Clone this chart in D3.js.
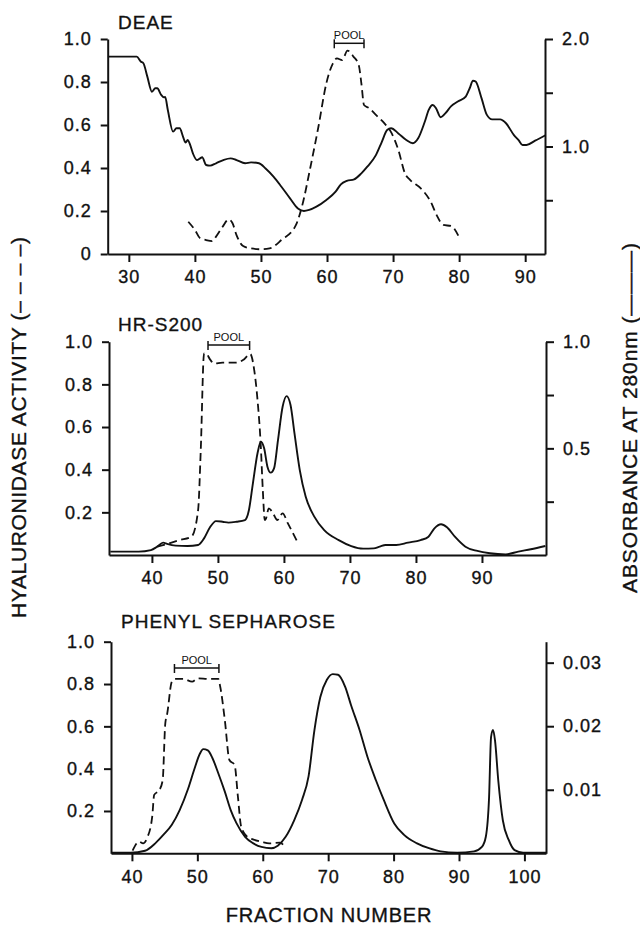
<!DOCTYPE html>
<html>
<head>
<meta charset="utf-8">
<script src="https://cdn.jsdelivr.net/npm/d3@7"></script>
<style>
  html, body { margin: 0; padding: 0; background: #fff; }
  svg text { font-family: "Liberation Sans", Arial, Helvetica, sans-serif; fill: #111; }
</style>
</head>
<body>
<svg id="chart" width="640" height="926"></svg>
<script>
// ---------------- DATA ----------------
// [fraction, value]; activity on left axis (0-1), absorbance on right axis
const deaeAbsorbance = [
 [26.8,1.836],[31.2,1.836],[31.8,1.79],[32.2,1.774],[32.8,1.65],[33.5,1.51],[34.0,1.542],[34.3,1.542],
 [34.9,1.48],[35.3,1.458],[35.5,1.46],[35.9,1.34],[36.7,1.138],[37.2,1.17],[37.7,1.17],[38.2,1.092],
 [38.6,1.036],[38.9,1.06],[39.2,1.03],[39.7,0.936],[40.3,0.874],[40.8,0.89],[41.1,0.90],[41.7,0.828],
 [42.3,0.822],[43.2,0.844],[44.3,0.874],[45.4,0.89],[46.3,0.874],[47.6,0.844],[48.5,0.852],[49.7,0.844],
 [50.7,0.796],[51.9,0.72],[53.1,0.626],[54.4,0.518],[55.6,0.424],[56.5,0.40],[57.3,0.41],[58.4,0.44],
 [59.9,0.502],[61.3,0.58],[62.1,0.648],[63.0,0.68],[64.1,0.694],[65.2,0.75],[66.1,0.812],[67.4,0.92],
 [68.3,1.044],[69.1,1.154],[69.7,1.17],[70.8,1.122],[72.0,1.06],[73.0,1.03],[73.8,1.076],[74.8,1.23],
 [75.4,1.34],[76.0,1.386],[76.5,1.356],[77.2,1.272],[77.9,1.308],[78.8,1.376],[79.8,1.418],[81.0,1.464],
 [81.6,1.542],[82.1,1.612],[82.5,1.604],[83.4,1.448],[84.2,1.294],[85.0,1.252],[86.2,1.252],[87.1,1.216],
 [88.3,1.106],[89.0,1.06],[89.6,1.014],[90.2,1.014],[91.5,1.054],[93.1,1.106]
];
const deaeActivity = [
 [39.0,0.150],[40.0,0.112],[40.8,0.073],[41.7,0.065],[42.6,0.06],[43.2,0.081],[44.2,0.127],[45.1,0.161],
 [45.7,0.143],[46.3,0.088],[47.3,0.037],[48.5,0.026],[50.0,0.022],[51.3,0.026],[53.1,0.065],[55.3,0.135],
 [56.2,0.22],[57.5,0.406],[58.7,0.592],[59.9,0.794],[60.9,0.887],[61.5,0.91],[62.3,0.902],[63.1,0.946],
 [64.0,0.918],[64.8,0.879],[65.2,0.794],[65.6,0.693],[66.4,0.678],[67.4,0.647],[68.6,0.611],[69.8,0.561],
 [70.8,0.484],[71.8,0.375],[72.6,0.344],[74.2,0.305],[75.7,0.243],[76.6,0.181],[77.6,0.135],[78.8,0.13],
 [80.0,0.078]
];
const hrAbsorbance = [
 [33.7,0.016],[35.5,0.016],[38.0,0.016],[39.85,0.023],[40.8,0.039],[41.7,0.058],[42.3,0.052],[43.6,0.044],
 [45.4,0.042],[47.0,0.047],[47.9,0.078],[48.8,0.13],[49.7,0.159],[50.7,0.156],[51.6,0.152],[52.8,0.156],
 [54.1,0.164],[54.7,0.211],[55.3,0.336],[56.0,0.477],[56.5,0.531],[57.0,0.5],[57.5,0.414],[58.0,0.386],
 [58.5,0.406],[59.1,0.539],[59.8,0.695],[60.4,0.745],[61.0,0.703],[61.6,0.57],[62.4,0.398],[63.3,0.273],
 [64.6,0.18],[66.1,0.117],[68.3,0.07],[70.2,0.042],[72.0,0.03],[73.6,0.031],[74.5,0.039],[75.4,0.047],
 [77.0,0.047],[78.8,0.058],[80.7,0.07],[81.9,0.086],[82.8,0.125],[83.8,0.144],[84.7,0.13],[85.9,0.086],
 [87.5,0.039],[89.3,0.019],[91.2,0.008],[93.6,0.003],[95.5,0.016],[97.4,0.027],[99.6,0.042]
];
const hrActivity = [
 [40.8,0.039],[42.3,0.052],[44.2,0.07],[46.0,0.086],[47.0,0.211],[47.4,0.492],[47.9,0.945],[48.2,0.945],
 [48.8,0.917],[49.4,0.898],[50.7,0.902],[52.8,0.902],[53.8,0.914],[54.9,0.942],[55.5,0.867],[56.0,0.727],
 [56.5,0.508],[56.8,0.305],[57.1,0.164],[57.3,0.172],[57.7,0.219],[58.4,0.192],[59.0,0.164],[59.8,0.195],
 [60.6,0.148],[62.1,0.058]
];
const phenylAbsorbance = [
 [36.8,0.0001],[39.8,0.0001],[42.0,0.0004],[43.6,0.0016],[44.8,0.0029],[46.1,0.0045],[47.3,0.0068],
 [48.6,0.0102],[49.5,0.0131],[50.4,0.0157],[50.9,0.0164],[51.6,0.0162],[52.3,0.0150],[53.2,0.0126],
 [54.2,0.0097],[55.1,0.0068],[56.0,0.0047],[57.3,0.0026],[58.5,0.0016],[59.8,0.0010],[61.3,0.0008],
 [62.3,0.0012],[63.5,0.0026],[64.8,0.0052],[66.0,0.0084],[67.0,0.0121],[67.9,0.0194],[68.8,0.0246],
 [69.8,0.0273],[70.7,0.0282],[71.5,0.0281],[72.6,0.0262],[73.5,0.0233],[74.8,0.0194],[76.0,0.0152],
 [77.3,0.0115],[78.5,0.0084],[80.1,0.0047],[81.6,0.0029],[83.5,0.0016],[85.4,0.0008],[87.2,0.0003],
 [89.7,0.0001],[92.3,0.0003],[93.5,0.0010],[94.1,0.0026],[94.6,0.0089],[94.9,0.0183],[95.2,0.0194],
 [95.5,0.0178],[96.0,0.0115],[96.7,0.0052],[97.6,0.0021],[98.5,0.0005],[99.8,0.0001],[103.3,0.0001]
];
const phenylActivity = [
 [40.1,0.013],[41.1,0.055],[41.7,0.047],[42.3,0.071],[43.1,0.173],[43.4,0.276],[44.2,0.299],[44.7,0.346],
 [45.1,0.614],[45.4,0.661],[46.1,0.811],[46.7,0.824],[47.9,0.824],[49.2,0.811],[50.1,0.827],[51.7,0.824],
 [53.2,0.824],[53.5,0.787],[54.2,0.630],[54.9,0.441],[55.7,0.417],[56.2,0.268],[56.7,0.126],[57.6,0.079],
 [58.5,0.066],[59.8,0.055],[61.0,0.047],[62.6,0.050],[63.5,0.027]
];

// tick values / labels
const deaeXTicks = [30,40,50,60,70,80,90];
const hrXTicks = [40,50,60,70,80,90];
const phenylXTicks = [40,50,60,70,80,90,100];
const deaeLeftTicks = [0,0.2,0.4,0.6,0.8,1.0];
const otherLeftTicks = [0.2,0.4,0.6,0.8,1.0];
const deaeRightTicks = [0.5,1.0,1.5,2.0];
const deaeRightLabels = [1.0,2.0];
const hrRightTicks = [0.25,0.5,0.75,1.0];
const hrRightLabels = [0.5,1.0];
const phenylRightTicks = [0.01,0.02,0.03];
const phenylRightLabels = [0.01,0.02,0.03];

const titles = ["DEAE","HR-S200","PHENYL SEPHAROSE"];
const pools = [[61.1,65.6],[48.5,54.8],[46.5,53.3]];

// ---------------- LAYOUT ----------------
const panels = [
  {x0:107.7,x1:545,yb:254,yt:39,xd:[26.8,93],rmax:2.0,abs:deaeAbsorbance,act:deaeActivity,
   xt:deaeXTicks,lt:deaeLeftTicks,rt:deaeRightTicks,rl:deaeRightLabels,rf:d3.format(".1f"),
   tx:118,ty:29,poolY:43.3},
  {x0:109,x1:546,yb:555,yt:341.7,xd:[33.5,99.7],rmax:1.0,abs:hrAbsorbance,act:hrActivity,
   xt:hrXTicks,lt:otherLeftTicks,rt:hrRightTicks,rl:hrRightLabels,rf:d3.format(".1f"),
   tx:118,ty:331,poolY:345},
  {x0:111,x1:546,yb:853.3,yt:641.7,xd:[36.8,103.3],rmax:0.0333,abs:phenylAbsorbance,act:phenylActivity,
   xt:phenylXTicks,lt:otherLeftTicks,rt:phenylRightTicks,rl:phenylRightLabels,rf:d3.format(".2f"),
   tx:121,ty:628,poolY:668}
];

const svg = d3.select("#chart");
const leftFmt = d => d === 0 ? "0" : d3.format(".1f")(d);
const ink = sel => sel.attr("stroke","#111").attr("stroke-width",0.35).attr("paint-order","stroke");

panels.forEach((p, i) => {
  const x = d3.scaleLinear().domain(p.xd).range([p.x0, p.x1]);
  const yL = d3.scaleLinear().domain([0,1]).range([p.yb, p.yt]);
  const yR = d3.scaleLinear().domain([0,p.rmax]).range([p.yb, p.yt]);
  const g = svg.append("g");

  const clipId = "clip" + i;
  svg.append("clipPath").attr("id", clipId).append("rect")
    .attr("x", p.x0).attr("y", p.yt - 20).attr("width", p.x1 - p.x0).attr("height", p.yb - p.yt + 20);

  // curves
  const lineA = d3.line().x(d => x(d[0])).y(d => yR(d[1])).curve(d3.curveMonotoneX);
  const lineB = d3.line().x(d => x(d[0])).y(d => yL(d[1])).curve(d3.curveMonotoneX);
  g.append("path").datum(p.abs).attr("d", lineA).attr("clip-path", `url(#${clipId})`)
    .attr("fill","none").attr("stroke","#111").attr("stroke-width",1.9).attr("stroke-linejoin","round");
  g.append("path").datum(p.act).attr("d", lineB).attr("clip-path", `url(#${clipId})`)
    .attr("fill","none").attr("stroke","#111").attr("stroke-width",1.8).attr("stroke-dasharray","8,4.5");

  // axes
  const styleAxis = sel => {
    sel.selectAll("path.domain").attr("stroke","#111").attr("stroke-width",2);
    sel.selectAll(".tick line").attr("stroke","#111").attr("stroke-width",2);
    sel.selectAll(".tick text").attr("font-size",18).attr("letter-spacing",1)
      .attr("font-family","'Liberation Sans', Arial, Helvetica, sans-serif").attr("fill","#111")
      .call(ink);
  };
  const gx = g.append("g").attr("transform",`translate(0,${p.yb})`)
    .call(d3.axisBottom(x).tickValues(p.xt).tickSize(8).tickSizeOuter(0).tickPadding(6).tickFormat(d3.format("d")));
  styleAxis(gx);
  gx.selectAll(".tick text").attr("dy","0.85em");

  const gl = g.append("g").attr("transform",`translate(${p.x0},0)`)
    .call(d3.axisLeft(yL).tickValues(p.lt).tickSize(7).tickSizeOuter(0).tickPadding(9).tickFormat(leftFmt));
  styleAxis(gl);

  const gr = g.append("g").attr("transform",`translate(${p.x1},0)`)
    .call(d3.axisRight(yR).tickValues(p.rt).tickSize(8).tickSizeOuter(0).tickPadding(9)
      .tickFormat(d => p.rl.some(v => Math.abs(v - d) < 1e-9) ? p.rf(d) : ""));
  styleAxis(gr);

  // title
  g.append("text").attr("x", p.tx).attr("y", p.ty).attr("font-size",19).attr("letter-spacing",1)
    .call(ink).text(titles[i]);

  // pool bracket
  const [a, b] = pools[i];
  const pg = g.append("g").attr("stroke","#111").attr("stroke-width",1.5);
  pg.append("line").attr("x1",x(a)).attr("x2",x(b)).attr("y1",p.poolY).attr("y2",p.poolY);
  [a,b].forEach(v => pg.append("line").attr("x1",x(v)).attr("x2",x(v))
    .attr("y1",p.poolY-4).attr("y2",p.poolY+5));
  g.append("text").attr("x",(x(a)+x(b))/2).attr("y",p.poolY-4.5).attr("text-anchor","middle")
    .attr("font-size",11).text("POOL");
});

// shared labels
svg.append("text").attr("transform","translate(18,427.5) rotate(-90)")
  .attr("text-anchor","middle").attr("dominant-baseline","central").attr("font-size",21)
  .attr("textLength",381).attr("lengthAdjust","spacing").call(ink)
  .text("HYALURONIDASE ACTIVITY (– – – –)");
svg.append("text").attr("transform","translate(629,418) rotate(-90)")
  .attr("text-anchor","middle").attr("dominant-baseline","central").attr("font-size",21)
  .attr("textLength",350).attr("lengthAdjust","spacing").call(ink)
  .text("ABSORBANCE AT 280nm (———)");
svg.append("text").attr("x",329).attr("y",922).attr("text-anchor","middle")
  .attr("font-size",20).attr("letter-spacing",0.8).call(ink).text("FRACTION NUMBER");
</script>
</body>
</html>
